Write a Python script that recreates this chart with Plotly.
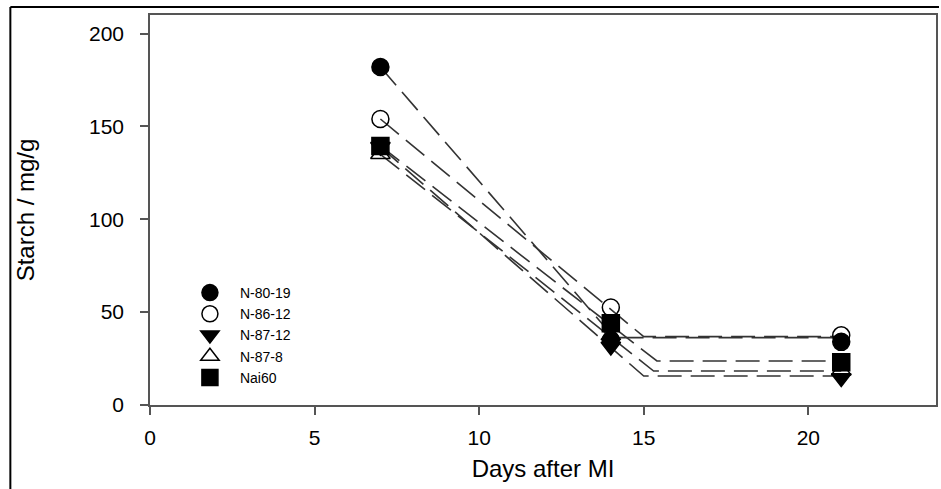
import plotly.graph_objects as go

days = [7, 14, 21]
names = ["N-80-19", "N-86-12", "N-87-12", "N-87-8", "Nai60"]
values = {
    "N-80-19": [182, 35, 34],
    "N-86-12": [154, 52.5, 37.5],
    "N-87-12": [139, 31.5, 14.5],
    "N-87-8": [135, 37.5, 18.5],
    "Nai60": [139.5, 44, 23],
}
# broken-stick fit: start value at day 7, breakpoint day, plateau value
fit_start = [182, 154, 139, 135, 139.5]
fit_break = [14.1, 15.0, 15.0, 15.3, 15.4]
fit_plateau = [36.3, 36.8, 15.6, 18.3, 23.7]
fit_end_day = 21

symbols = ["circle", "circle-open", "triangle-down", "triangle-up-open", "square"]

W, H = 941, 489
L, R, T, B = 150, 938, 15, 405
FONT = "Liberation Sans, Arial, sans-serif"

fig = go.Figure()

for i, n in enumerate(names):
    fig.add_trace(go.Scatter(
        x=[days[0], fit_break[i], fit_end_day],
        y=[fit_start[i], fit_plateau[i], fit_plateau[i]],
        mode="lines",
        line=dict(color="#333333", width=1.6, dash="24px,9px"),
        showlegend=False, hoverinfo="skip",
    ))

for i, n in enumerate(names):
    fig.add_trace(go.Scatter(
        x=days, y=values[n], mode="markers", name=n,
        marker=dict(symbol=symbols[i], size=17, color="black",
                    line=dict(color="black", width=1.5)),
    ))

def px_x(p):
    return (p - L) / (R - L)

def px_y(p):
    return (B - p) / (B - T)

shapes = [
    dict(type="line", xref="paper", yref="paper", x0=px_x(10), x1=px_x(941), y0=px_y(7), y1=px_y(7),
         line=dict(color="black", width=2)),
    dict(type="line", xref="paper", yref="paper", x0=px_x(10), x1=px_x(10), y0=px_y(7), y1=px_y(489),
         line=dict(color="black", width=2)),
]

fig.update_layout(
    width=W, height=H,
    margin=dict(l=L, r=W - R, t=T, b=H - B),
    paper_bgcolor="white", plot_bgcolor="white",
    font=dict(family=FONT, color="black"),
    shapes=shapes,
    showlegend=True,
    legend=dict(
        x=px_x(180), y=px_y(277), xanchor="left", yanchor="top",
        bgcolor="rgba(0,0,0,0)", borderwidth=0,
        font=dict(size=14, family=FONT), tracegroupgap=0,
        itemsizing="trace", itemwidth=50,
    ),
    xaxis=dict(
        range=[0, (R - L) / 33.0], tickmode="array", tickvals=[0, 5, 10, 15, 20],
        showgrid=False, zeroline=False, showline=True, linecolor="#555", linewidth=1.5,
        mirror=True, ticks="outside", ticklen=8, tickwidth=1.5, tickcolor="#555",
        tickfont=dict(size=21), ticklabelstandoff=5,
        title=dict(text="Days after MI", font=dict(size=24), standoff=12),
    ),
    yaxis=dict(
        range=[0, 210], tickmode="array", tickvals=[0, 50, 100, 150, 200],
        showgrid=False, zeroline=False, showline=True, linecolor="#555", linewidth=1.5,
        mirror=True, ticks="outside", ticklen=8, tickwidth=1.5, tickcolor="#555",
        tickfont=dict(size=21), ticklabelstandoff=12,
        title=dict(text="Starch / mg/g", font=dict(size=24), standoff=48),
    ),
)

fig.write_html("out.html")
